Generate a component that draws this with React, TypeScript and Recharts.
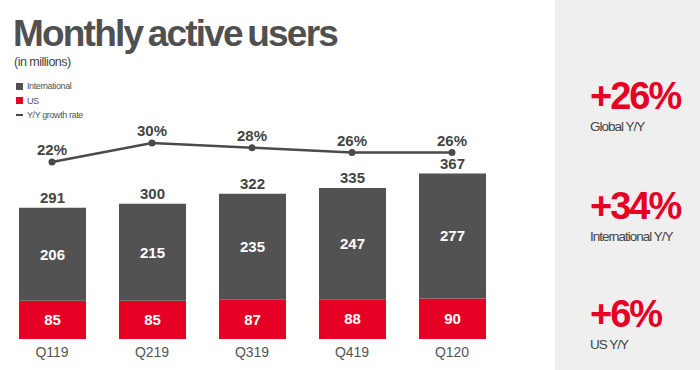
import { ComposedChart, Bar, Line, XAxis, YAxis, LabelList } from 'recharts';

const quarters = ['Q119', 'Q219', 'Q319', 'Q419', 'Q120'];
const usUsers = [85, 85, 87, 88, 90];
const intlUsers = [206, 215, 235, 247, 277];
const totalUsers = [291, 300, 322, 335, 367];
const growthRate = [22, 30, 28, 26, 26];

const highlights = [
    { value: '+26%', label: 'Global Y/Y', top: 77 },
    { value: '+34%', label: 'International Y/Y', top: 187 },
    { value: '+6%', label: 'US Y/Y', top: 295 },
];

const RED = '#e60023';
const GREY = '#525252';
const FONT = '"Liberation Sans", Arial, sans-serif';

const data = quarters.map((q, i) => ({
    quarter: q,
    us: usUsers[i],
    intl: intlUsers[i],
    total: totalUsers[i],
    growth: growthRate[i],
}));

const legendItems = [
    { name: 'International', color: GREY, kind: 'box' },
    { name: 'US', color: RED, kind: 'box' },
    { name: 'Y/Y growth rate', color: '#444', kind: 'line' },
];

function LegendBox() {
    return (
        <div style={{ position: 'absolute', left: 16, top: 79, fontSize: 9, color: '#555', letterSpacing: -0.4 }}>
            {legendItems.map((it) => (
                <div key={it.name} style={{ display: 'flex', alignItems: 'center', height: 14.5 }}>
                    <span style={{ width: 7, height: it.kind === 'box' ? 7 : 2, background: it.color, marginRight: 4 }} />
                    {it.name}
                </div>
            ))}
        </div>
    );
}

export default function App() {
    return (
        <div style={{ position: 'absolute', left: 0, top: 0, width: 700, height: 370, background: '#fff', overflow: 'hidden', fontFamily: FONT }}>
            {/* title */}
            <div style={{ position: 'absolute', left: 13, top: 15, fontSize: 37, fontWeight: 700, color: '#505050', letterSpacing: -1.8, wordSpacing: -3, lineHeight: 1 }}>
                Monthly active users
            </div>
            <div style={{ position: 'absolute', left: 14, top: 55, fontSize: 12.5, color: '#444', letterSpacing: -0.5 }}>
                (in millions)
            </div>
            <LegendBox />

            <div style={{ position: 'absolute', left: 0, top: 0 }}>
                <ComposedChart width={555} height={370} data={data} margin={{ top: 100, right: 53, left: 2, bottom: 1 }}>
                    <XAxis dataKey="quarter" axisLine={false} tickLine={false} height={30} tick={{ fill: '#555', fontSize: 14, fontFamily: FONT }} />
                    <YAxis yAxisId="bars" hide domain={[0, 530]} />
                    <YAxis yAxisId="growth" hide orientation="right" domain={[-52.5, 48.1]} />
                    <Bar yAxisId="bars" dataKey="us" stackId="a" fill={RED} barSize={67} isAnimationActive={false} name="US">
                        <LabelList dataKey="us" position="center" fill="#fff" fontSize={15} fontWeight={700} fontFamily={FONT} />
                    </Bar>
                    <Bar yAxisId="bars" dataKey="intl" stackId="a" fill={GREY} barSize={67} isAnimationActive={false} name="International">
                        <LabelList dataKey="intl" position="center" fill="#fff" fontSize={15} fontWeight={700} fontFamily={FONT} />
                        <LabelList dataKey="total" position="top" fill="#444" fontSize={15} fontWeight={700} fontFamily={FONT} />
                    </Bar>
                    <Line
                        yAxisId="growth"
                        dataKey="growth"
                        stroke="#4a4a4a"
                        strokeWidth={2.5}
                        dot={{ r: 3.5, fill: '#4a4a4a', stroke: 'none' }}
                        isAnimationActive={false}
                        name="Y/Y growth rate"
                    >
                        <LabelList dataKey="growth" position="top" offset={7} formatter={(v: any) => `${v}%`} fill="#444" fontSize={15} fontWeight={700} fontFamily={FONT} />
                    </Line>
                </ComposedChart>
            </div>

            {/* right panel */}
            <div style={{ position: 'absolute', left: 555, top: 0, width: 145, height: 370, background: '#efefef' }}>
                {highlights.map((h) => (
                    <div key={h.value} style={{ position: 'absolute', left: 35, top: h.top }}>
                        <div style={{ fontSize: 38, fontWeight: 700, color: RED, letterSpacing: -2, lineHeight: 1 }}>{h.value}</div>
                        <div style={{ fontSize: 13.5, color: '#444', letterSpacing: -1, lineHeight: 1, marginTop: 5 }}>{h.label}</div>
                    </div>
                ))}
            </div>
        </div>
    );
}
